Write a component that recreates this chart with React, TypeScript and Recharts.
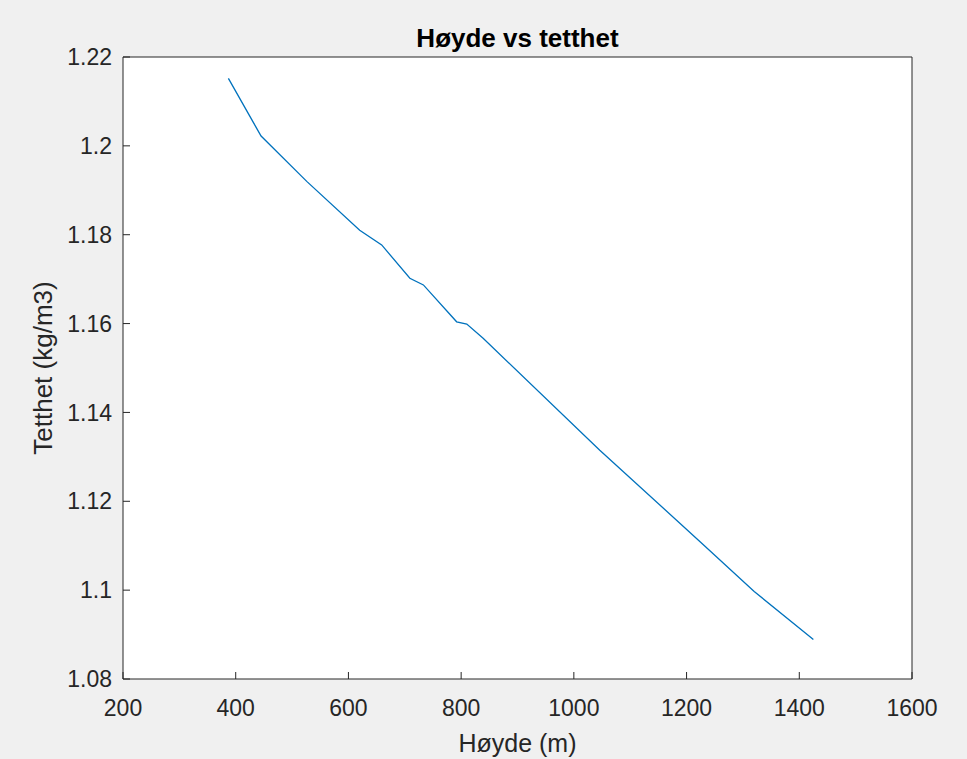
import { LineChart, Line, XAxis, YAxis, CartesianGrid, Label } from 'recharts';

const heights = [387, 445, 526, 620, 659, 709, 733, 792, 810, 839, 1046, 1224, 1320, 1425];
const densities = [1.2152, 1.2022, 1.192, 1.181, 1.1777, 1.1702, 1.1687, 1.1604, 1.1599, 1.1567, 1.1315, 1.1109, 1.0997, 1.0889];
const xTicks = [200, 400, 600, 800, 1000, 1200, 1400, 1600];
const yTicks = [1.08, 1.1, 1.12, 1.14, 1.16, 1.18, 1.2, 1.22];

const data = heights.map((h, i) => ({ h, d: densities[i] }));

const ink = '#262626';
const font = '"Liberation Sans", Arial, Helvetica, sans-serif';
const tickStyle = { fill: ink, fontSize: 23, fontFamily: font };

const fmt = (v: number) => String(+v.toFixed(2));

const Title = ({ viewBox }: any) => (
  <text x={viewBox.x + viewBox.width / 2} y={viewBox.y + viewBox.height - 10} textAnchor="middle" fontFamily={font} fontSize={26} fontWeight="bold" fill="#000">
    Høyde vs tetthet
  </text>
);

const YTitle = ({ viewBox }: any) => {
  const x = viewBox.x + 52;
  const y = viewBox.y + viewBox.height / 2;
  return (
    <text x={x} y={y} transform={`rotate(-90 ${x} ${y})`} textAnchor="middle" fontFamily={font} fontSize={26} fill={ink}>
      Tetthet (kg/m3)
    </text>
  );
};

export default function App() {
  return (
    <div style={{ position: 'absolute', left: 0, top: 0, width: 967, height: 759, background: '#f0f0f0' }}>
      <LineChart width={967} height={759} data={data} margin={{ top: 56, right: 54, bottom: 0, left: 0 }}>
        <CartesianGrid fill="#fff" horizontal={false} vertical={false} />
        <XAxis
          type="number"
          dataKey="h"
          domain={[200, 1600]}
          ticks={xTicks}
          height={80}
          tickSize={-7}
          tickMargin={28}
          stroke={ink}
          tick={tickStyle}
          allowDataOverflow
        >
          <Label value="Høyde (m)" position="insideBottom" offset={7} fontFamily={font} fontSize={25} fill={ink} />
        </XAxis>
        <XAxis
          xAxisId="top"
          orientation="top"
          type="number"
          dataKey="h"
          domain={[200, 1600]}
          ticks={xTicks}
          height={1}
          tickSize={-7}
          stroke={ink}
          tick={false}
          allowDataOverflow
        >
          <Label content={Title} />
        </XAxis>
        <YAxis
          type="number"
          domain={[1.08, 1.22]}
          ticks={yTicks}
          width={123}
          tickSize={-7}
          tickMargin={18}
          tickFormatter={fmt}
          stroke={ink}
          tick={tickStyle}
          allowDataOverflow
        >
          <Label content={YTitle} />
        </YAxis>
        <YAxis
          yAxisId="right"
          orientation="right"
          type="number"
          domain={[1.08, 1.22]}
          ticks={yTicks}
          width={1}
          tickSize={-7}
          stroke={ink}
          tick={false}
          allowDataOverflow
        />
        <Line type="linear" dataKey="d" stroke="#0072BD" strokeWidth={1.3} dot={false} isAnimationActive={false} />
      </LineChart>
    </div>
  );
}
